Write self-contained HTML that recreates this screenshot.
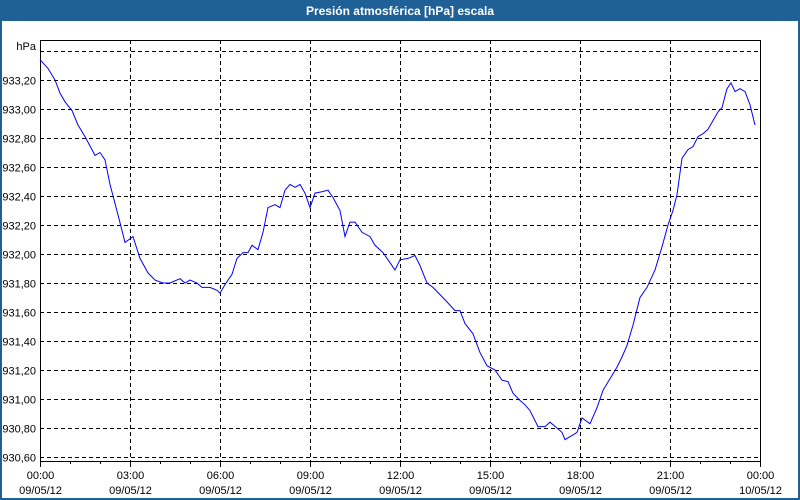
<!DOCTYPE html>
<html><head><meta charset="utf-8"><style>
body{margin:0;background:#fff;}
svg{display:block;font-family:"Liberation Sans",sans-serif;}
</style></head><body>
<svg id="chart" width="800" height="500">
<rect x="0" y="0" width="800" height="500" fill="#1f6096"/>
<rect x="2" y="21" width="796" height="477" fill="#fff"/>
<text x="400" y="15" text-anchor="middle" fill="#fff" font-size="12" font-weight="bold">Presión atmosférica [hPa] escala</text>
<text x="36" y="50" text-anchor="end" font-size="11" fill="#000">hPa</text>
<g id="grid"></g><g id="axes"></g>
<path id="line" fill="none" stroke="#0000ff" stroke-width="1"/>
</svg>
<script>
const minutes=[0,16,30,40,50,64,76,90,110,120,130,140,156,170,186,200,216,230,246,260,280,290,300,314,324,340,354,360,370,384,394,406,416,424,436,446,456,470,480,490,500,510,520,530,540,550,564,576,586,600,610,620,630,644,660,670,686,700,710,720,736,750,760,774,786,800,814,830,840,850,866,880,894,910,924,936,946,960,970,980,996,1010,1020,1034,1044,1050,1060,1074,1084,1100,1114,1126,1140,1154,1164,1174,1186,1200,1214,1230,1244,1256,1266,1274,1284,1296,1306,1316,1326,1336,1346,1356,1364,1374,1382,1390,1400,1410,1420,1430];
const pressure=[933.34,933.28,933.20,933.11,933.05,932.99,932.89,932.81,932.68,932.70,932.65,932.48,932.27,932.08,932.12,931.97,931.87,931.82,931.80,931.80,931.83,931.80,931.82,931.80,931.77,931.77,931.75,931.73,931.79,931.86,931.97,932.01,932.01,932.06,932.03,932.15,932.32,932.34,932.32,932.44,932.48,932.46,932.48,932.42,932.32,932.42,932.43,932.44,932.39,932.30,932.12,932.22,932.22,932.15,932.12,932.06,932.01,931.94,931.89,931.96,931.97,931.99,931.92,931.80,931.77,931.72,931.67,931.61,931.61,931.52,931.45,931.32,931.23,931.20,931.13,931.12,931.04,930.99,930.96,930.92,930.81,930.81,930.84,930.80,930.77,930.72,930.74,930.77,930.87,930.83,930.94,931.06,931.14,931.22,931.29,931.37,931.51,931.70,931.77,931.89,932.05,932.20,932.30,932.41,932.66,932.72,932.74,932.81,932.83,932.86,932.92,932.98,933.01,933.14,933.18,933.12,933.14,933.12,933.03,932.89];
const yTicks=[930.6,930.8,931.0,931.2,931.4,931.6,931.8,932.0,932.2,932.4,932.6,932.8,933.0,933.2,933.4];
const xTickLabels=["00:00","03:00","06:00","09:00","12:00","15:00","18:00","21:00","00:00"];
const xDateLabels=["09/05/12","09/05/12","09/05/12","09/05/12","09/05/12","09/05/12","09/05/12","09/05/12","10/05/12"];
const L=40,R=760,T=40,B=461;
const xs=m=>L+m/1440*(R-L);
const ys=v=>80+(933.2-v)/0.2*29;
const NS="http://www.w3.org/2000/svg";
const grid=document.getElementById('grid'),axes=document.getElementById('axes');
function mk(tag,attrs,parent){const e=document.createElementNS(NS,tag);for(const k in attrs)e.setAttribute(k,attrs[k]);parent.appendChild(e);return e;}
yTicks.forEach((v,i)=>{const y=Math.round(ys(v))+0.5;
 const g=mk('line',{x1:L,x2:R,y1:y,y2:y,stroke:'#000','stroke-dasharray':'4,3'},grid);
 
 
 if(v<933.3){const t=mk('text',{x:36,y:y+4,'text-anchor':'end','font-size':11},axes);t.textContent=v.toFixed(2).replace('.',',');
 
 }
});
xTickLabels.forEach((lab,i)=>{const x=Math.round(xs(i*180))+0.5;
 if(i>0&&i<8){const g=mk('line',{x1:x,x2:x,y1:T,y2:B,stroke:'#000','stroke-dasharray':'4,3'},grid);
 
 }
 const t=mk('text',{x:x,y:479,'text-anchor':'middle','font-size':11},axes);t.textContent=lab;
 
 
 const d=mk('text',{x:x,y:494,'text-anchor':'middle','font-size':11},axes);d.textContent=xDateLabels[i];
 
 
});
for(let h=0;h<=24;h++){const x=Math.round(xs(h*60))+0.5;const len=h%3==0?6:3;
 const tk=mk('line',{x1:x,x2:x,y1:B,y2:B+len,stroke:'#000'},axes);
 
 }
const box=mk('rect',{x:L+0.5,y:T+0.5,width:R-L,height:B-T,fill:'none',stroke:'#000'},axes);


document.getElementById('line').setAttribute('d',minutes.map((m,i)=>(i?'L':'M')+xs(m).toFixed(1)+','+ys(pressure[i]).toFixed(1)).join(''));
</script>
</body></html>
